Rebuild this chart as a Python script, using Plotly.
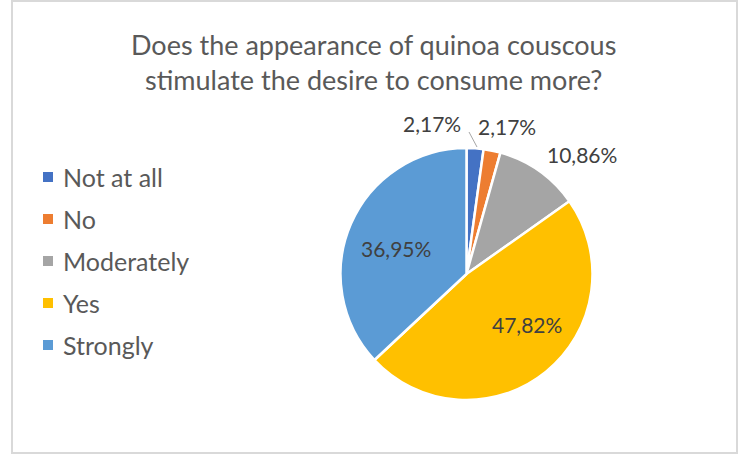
import plotly.graph_objects as go

# Survey answers and their shares (%)
categories = ["Not at all", "No", "Moderately", "Yes", "Strongly"]
shares = [2.17, 2.17, 10.86, 47.82, 36.95]
colors = ["#4472C4", "#ED7D31", "#A5A5A5", "#FFC000", "#5B9BD5"]
title_lines = ["Does the appearance of quinoa couscous",
               "stimulate the desire to consume more?"]

W, H = 745, 456
FONT = "Lato"


def px(x):
    return x / W


def py(y):
    return 1 - y / H


def pct(v):
    return f"{v:.2f}%".replace(".", ",")


fig = go.Figure(go.Pie(
    labels=categories,
    values=shares,
    sort=False,
    direction="clockwise",
    rotation=0,
    marker=dict(colors=colors, line=dict(color="white", width=2.5)),
    textinfo="none",
    domain=dict(x=[px(340), px(593)], y=[py(400), py(148)]),
    showlegend=False,
    hoverinfo="label+value",
))

# data labels placed around / on the slices
label_pos = [(432, 124), (507, 127), (582, 154), (527, 324), (396, 248)]
annotations = []
for v, (x, y) in zip(shares, label_pos):
    annotations.append(dict(
        x=px(x), y=py(y), xref="paper", yref="paper",
        text=pct(v), showarrow=False,
        xanchor="center", yanchor="middle",
        font=dict(family=FONT, size=21, color="#404040"),
    ))

# title
annotations.append(dict(
    x=px(373), y=py(62), xref="paper", yref="paper",
    text="<br>".join(title_lines), showarrow=False,
    xanchor="center", yanchor="middle", align="center",
    font=dict(family=FONT, size=27, color="#595959"),
))

# legend entries
shapes = []
legend_y = [177, 219, 261, 303, 345]
for name, col, y in zip(categories, colors, legend_y):
    shapes.append(dict(
        type="rect", xref="paper", yref="paper",
        x0=px(43), x1=px(53), y0=py(y + 5), y1=py(y - 5),
        fillcolor=col, line=dict(width=0),
    ))
    annotations.append(dict(
        x=px(61), y=py(y), xref="paper", yref="paper",
        text=name, showarrow=False,
        xanchor="left", yanchor="middle",
        font=dict(family=FONT, size=25, color="#595959"),
    ))

# leader line for the first small label
shapes.append(dict(
    type="line", xref="paper", yref="paper",
    x0=px(469), y0=py(132), x1=px(477), y1=py(147),
    line=dict(color="#A6A6A6", width=1),
))

# chart area border
shapes.append(dict(
    type="rect", xref="paper", yref="paper",
    x0=px(12), x1=px(737), y0=py(453), y1=py(1),
    line=dict(color="#D9D9D9", width=2), fillcolor="rgba(0,0,0,0)",
))

fig.update_layout(
    width=W, height=H,
    margin=dict(l=0, r=0, t=0, b=0),
    paper_bgcolor="white",
    plot_bgcolor="white",
    annotations=annotations,
    shapes=shapes,
)

fig.write_html("out.html")
